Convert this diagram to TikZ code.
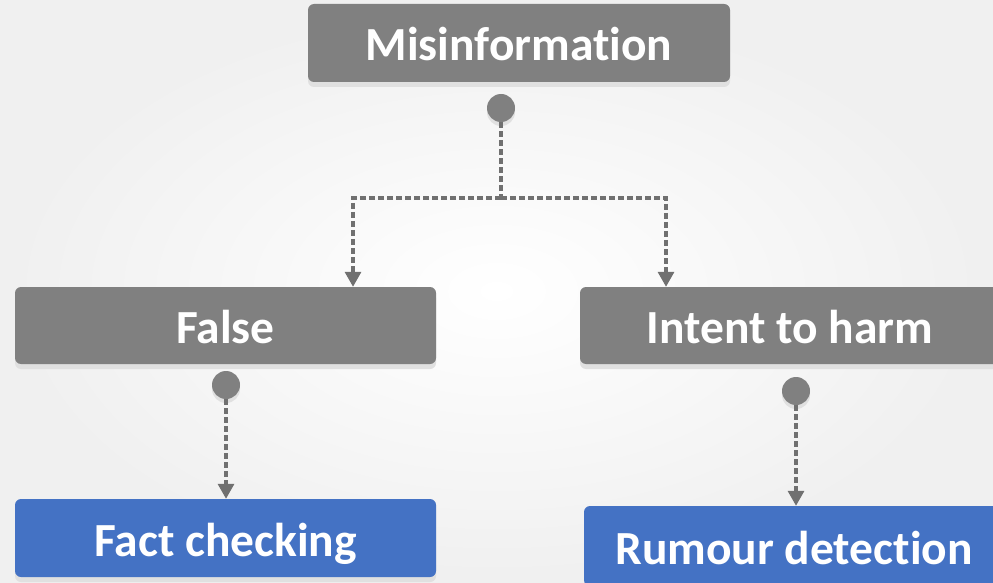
\documentclass[tikz,border=0pt]{standalone}
\usepackage{fontspec}
\setmainfont{Carlito}[Ligatures=NoCommon]
\usetikzlibrary{arrows.meta,shadows}
\definecolor{boxgray}{HTML}{808080}
\definecolor{boxblue}{HTML}{4472C4}
\definecolor{linegray}{HTML}{707070}
\tikzset{
  box/.style={rounded corners=6pt, fill=boxgray, text=white, inner sep=0pt,
    text height=36pt, text depth=0pt,
    font=\fontsize{47.5}{54}\selectfont\bfseries,
    drop shadow={shadow xshift=0pt, shadow yshift=-5pt, fill=black!12, opacity=1}},
  bluebox/.style={box, fill=boxblue},
  dot/.style={circle, fill=boxgray, minimum size=28pt, inner sep=0pt,
    drop shadow={shadow xshift=0pt, shadow yshift=-4pt, fill=black!12, opacity=1}},
  flow/.style={draw=linegray, line width=3.2pt, dash pattern=on 6pt off 3pt,
    -{Triangle[width=16pt,length=15pt]}}
}
\begin{document}
\begin{tikzpicture}[x=1pt,y=1pt]
\useasboundingbox (0,0) rectangle (993,582);
\clip (0,0) rectangle (993,582);
\shade[inner color=white, outer color=black!6] (0,0) rectangle (993,582);
% boxes
\node[box, minimum width=422pt, minimum height=78pt] (mis) at (519,539) {Misinformation};
\node[box, minimum width=421pt, minimum height=77pt] (false) at (225.5,256.5) {False};
\node[box, minimum width=420pt, minimum height=77pt] (intent) at (790,256.5) {Intent to harm};
\node[bluebox, minimum width=421pt, minimum height=78pt] (fact) at (225.5,44) {Fact checking};
\node[bluebox, minimum width=420pt, minimum height=80pt] (rumour) at (794,36) {Rumour detection};
% dots under the boxes
\foreach \name/\pos in {misdot/{(501,474)}, falsedot/{(226,197)}, intentdot/{(796,191)}}{
    \node[dot] (\name) at \pos {};
}
\coordinate (fork) at (501,384);
% connectors
\draw[flow, -] (misdot) -- (fork);
\draw[flow] (fork) -| ([xshift=127.5pt]false.north);
\draw[flow] (fork) -| ([xshift=-124pt]intent.north);
\draw[flow] (falsedot) -- (falsedot |- fact.north);
\draw[flow] (intentdot) -- (intentdot |- rumour.north);
\end{tikzpicture}
\end{document}
